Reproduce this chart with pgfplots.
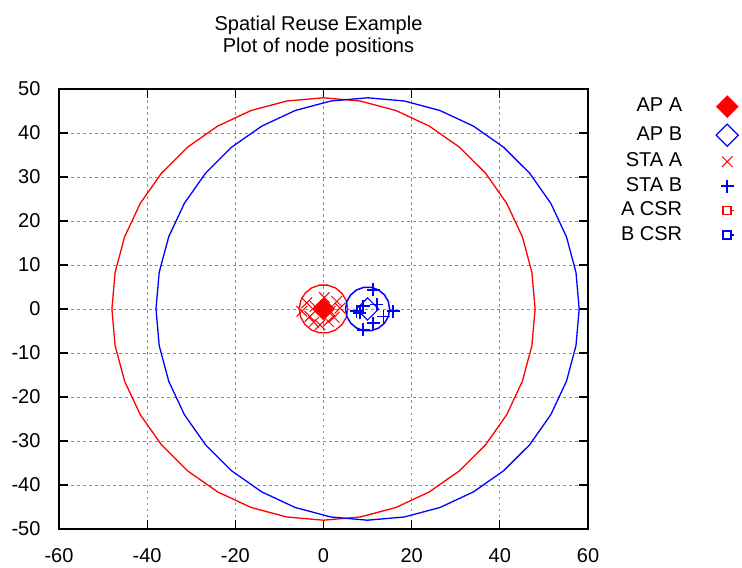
\documentclass[border=0pt]{standalone}
\usepackage{fontspec}
\setmainfont{Liberation Sans}
\usepackage{pgfplots}
\pgfplotsset{compat=1.18}
% key sample for the carrier-sense-range circles
\pgfplotsset{csr legend/.style={legend image code/.code={
  \draw[##1] (0.3cm-4bp,-4bp) rectangle (0.3cm+4bp,4bp);
  \draw[##1] (0.3cm+4bp,0bp) -- (0.3cm+6.5bp,0bp);}}}
% upright cross for the B stations
\pgfdeclareplotmark{staplus}{%
  \pgfpathmoveto{\pgfqpoint{-\pgfplotmarksize}{0pt}}%
  \pgfpathlineto{\pgfqpoint{\pgfplotmarksize}{0pt}}%
  \pgfpathmoveto{\pgfqpoint{0pt}{-\pgfplotmarksize}}%
  \pgfpathlineto{\pgfqpoint{0pt}{\pgfplotmarksize}}%
  \pgfusepathqstroke}

\begin{document}
\begin{tikzpicture}[font=\fontsize{20bp}{22bp}\selectfont]
\begin{axis}[
  at={(0,0)}, anchor=south west,
  scale only axis, width=529bp, height=440bp,
  xmin=-60, xmax=60, ymin=-50, ymax=50,
  xtick={-60,-40,...,60}, ytick={-50,-40,...,50},
  tick align=inside, major tick length=9bp,
  axis line style={line width=1.4bp, black},
  every tick/.style={black, line width=1.1bp},
  grid=major,
  major grid style={black!45, dash pattern=on 2.5bp off 3.5bp, line width=0.9bp},
  /pgf/number format/assume math mode=true,
  xticklabel style={yshift=-16bp},
  yticklabel style={xshift=-15bp},
  title={Spatial Reuse Example\\Plot of node positions},
  title style={align=center, yshift=23bp, xshift=-5bp},
  legend plot pos=right,
  legend cell align=right,
  legend style={draw=none, fill=none, at={(1.29,0.99)}, anchor=north east,
    row sep=6.5bp, nodes={inner sep=0pt, text height=14bp, text depth=4bp},
    /tikz/every odd column/.append style={column sep=34bp}},
]

% legend samples
\addlegendimage{only marks, red, mark=square*, mark size=7.8bp, mark options={red, rotate=45, fill=red}}
\addlegendentry{AP A}
\addlegendimage{only marks, blue, mark=square, mark size=7.8bp, mark options={blue, rotate=45, line width=1.2bp}}
\addlegendentry{AP B}
\addlegendimage{only marks, red, mark=x, mark size=7.5bp, mark options={red, line width=1bp}}
\addlegendentry{STA A}
\addlegendimage{only marks, blue, mark=staplus, mark size=6.5bp, mark options={blue, line width=1.8bp}}
\addlegendentry{STA B}
\addlegendimage{red, line width=1.5bp, csr legend}
\addlegendentry{A CSR}
\addlegendimage{blue, line width=1.5bp, csr legend}
\addlegendentry{B CSR}

% carrier sense range of A (large) and its local cell (small)
\addplot[red, line width=1.3bp, forget plot] coordinates {
 (48,0) (47.27,8.33) (45.11,16.42) (41.57,24) (36.77,30.85) (30.85,36.77)
 (24,41.57) (16.42,45.11) (8.33,47.27) (0,48) (-8.33,47.27) (-16.42,45.11)
 (-24,41.57) (-30.85,36.77) (-36.77,30.85) (-41.57,24) (-45.11,16.42) (-47.27,8.33)
 (-48,0) (-47.27,-8.33) (-45.11,-16.42) (-41.57,-24) (-36.77,-30.85) (-30.85,-36.77)
 (-24,-41.57) (-16.42,-45.11) (-8.33,-47.27) (0,-48) (8.33,-47.27) (16.42,-45.11)
 (24,-41.57) (30.85,-36.77) (36.77,-30.85) (41.57,-24) (45.11,-16.42) (47.27,-8.33) (48,0)};
\addplot[red, line width=1.3bp, forget plot] coordinates {
 (5.5,0) (5.17,1.88) (4.21,3.54) (2.75,4.76) (0.96,5.42) (-0.96,5.42) (-2.75,4.76)
 (-4.21,3.54) (-5.17,1.88) (-5.5,0) (-5.17,-1.88) (-4.21,-3.54) (-2.75,-4.76)
 (-0.96,-5.42) (0.96,-5.42) (2.75,-4.76) (4.21,-3.54) (5.17,-1.88) (5.5,0)};

% carrier sense range of B (large) and its local cell (small)
\addplot[blue, line width=1.3bp, forget plot] coordinates {
 (58,0) (57.27,8.33) (55.11,16.42) (51.57,24) (46.77,30.85) (40.85,36.77)
 (34,41.57) (26.42,45.11) (18.33,47.27) (10,48) (1.67,47.27) (-6.42,45.11)
 (-14,41.57) (-20.85,36.77) (-26.77,30.85) (-31.57,24) (-35.11,16.42) (-37.27,8.33)
 (-38,0) (-37.27,-8.33) (-35.11,-16.42) (-31.57,-24) (-26.77,-30.85) (-20.85,-36.77)
 (-14,-41.57) (-6.42,-45.11) (1.67,-47.27) (10,-48) (18.33,-47.27) (26.42,-45.11)
 (34,-41.57) (40.85,-36.77) (46.77,-30.85) (51.57,-24) (55.11,-16.42) (57.27,-8.33) (58,0)};
\addplot[blue, line width=1.5bp, forget plot] coordinates {
 (15,0) (14.70,1.71) (13.83,3.21) (12.5,4.33) (10.87,4.92) (9.13,4.92) (7.5,4.33)
 (6.17,3.21) (5.30,1.71) (5,0) (5.30,-1.71) (6.17,-3.21) (7.5,-4.33)
 (9.13,-4.92) (10.87,-4.92) (12.5,-4.33) (13.83,-3.21) (14.70,-1.71) (15,0)};

% stations of B
\addplot[only marks, blue, mark=staplus, mark size=6.5bp, mark options={blue, line width=1.8bp}, forget plot] coordinates {
 (11.3,4.4) (12.1,1.0) (9.0,0.6) (15.8,-0.5) (11.3,-3.2) (9.0,-4.7)
 (8.2,-0.9) (7.5,-0.5) (13.6,-1.7)};
% stations of A
\addplot[only marks, red, mark=x, mark size=7.5bp, mark options={red, line width=1bp}, forget plot] coordinates {
 (-3.8,1.4) (-3.1,-1.7) (3.0,1.7) (3.75,0.2) (1.1,-2.8) (-0.8,-3.6)
 (-1.9,0.6) (1.5,-0.5) (-4.9,-0.5) (-2.2,-3.0) (2.4,-1.9) (0.2,2.6)};

% access points
\addplot[only marks, red, mark=square*, mark size=7.8bp, mark options={red, rotate=45, fill=red}, forget plot] coordinates {(0,0)};
\addplot[only marks, blue, mark=square, mark size=7.8bp, mark options={blue, rotate=45, line width=1.2bp}, forget plot] coordinates {(10,0)};
\end{axis}
\pgfresetboundingbox
\path[use as bounding box] (-59bp,-39bp) rectangle (683bp,529bp);
\end{tikzpicture}
\end{document}
